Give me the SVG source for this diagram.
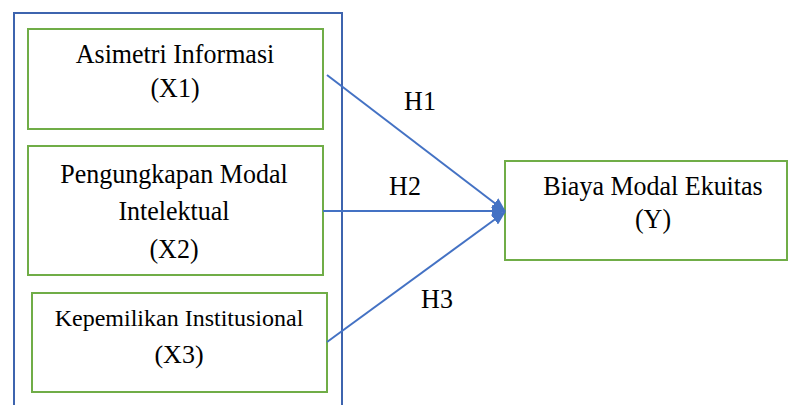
<svg xmlns="http://www.w3.org/2000/svg" width="789" height="405" viewBox="0 0 789 405">
<style>
.box{fill:#fff;stroke:#70AD47;stroke-width:2}
.outer{fill:none;stroke:#3E64AE;stroke-width:2}
.conn{stroke:#4472C4;stroke-width:2;fill:none}
text{font-family:"Liberation Serif","Times New Roman",serif;font-size:26px;fill:#000;text-anchor:middle}
.sm{font-size:24px}
</style>
<defs>
<marker id="ah" markerUnits="userSpaceOnUse" markerWidth="14" markerHeight="12" refX="13" refY="6" orient="auto" viewBox="0 0 14 12">
<path d="M0,0 L14,6 L0,12 z" fill="#4472C4"/>
</marker>
</defs>
<rect class="outer" x="14" y="13" width="328" height="420"/>
<g id="x1">
<rect class="box" x="28" y="29" width="295" height="100"/>
<text transform="translate(175,63) scale(1,1.08)">Asimetri Informasi</text>
<text transform="translate(175,97) scale(1,1.08)">(X1)</text>
</g>
<g id="x2">
<rect class="box" x="28" y="146" width="295" height="129"/>
<text transform="translate(174,183) scale(1,1.08)">Pengungkapan Modal</text>
<text transform="translate(174,220) scale(1,1.08)">Intelektual</text>
<text transform="translate(174,258) scale(1,1.08)">(X2)</text>
</g>
<g id="x3">
<rect class="box" x="32" y="293" width="295" height="99"/>
<text class="sm" x="179" y="326">Kepemilikan Institusional</text>
<text x="179" y="363">(X3)</text>
</g>
<g id="y">
<rect class="box" x="505" y="161" width="282" height="99"/>
<text transform="translate(653,195) scale(1,1.08)">Biaya Modal Ekuitas</text>
<text transform="translate(653,228) scale(1,1.08)">(Y)</text>
</g>
<g id="connectors">
<line class="conn" x1="327" y1="75" x2="505" y2="211" marker-end="url(#ah)"/>
<line class="conn" x1="323" y1="211" x2="505" y2="211" marker-end="url(#ah)"/>
<line class="conn" x1="327" y1="342" x2="505" y2="212" marker-end="url(#ah)"/>
<text transform="translate(420,110) scale(1,1.08)">H1</text>
<text transform="translate(405,195) scale(1,1.08)">H2</text>
<text transform="translate(437,308) scale(1,1.08)">H3</text>
</g>
</svg>
